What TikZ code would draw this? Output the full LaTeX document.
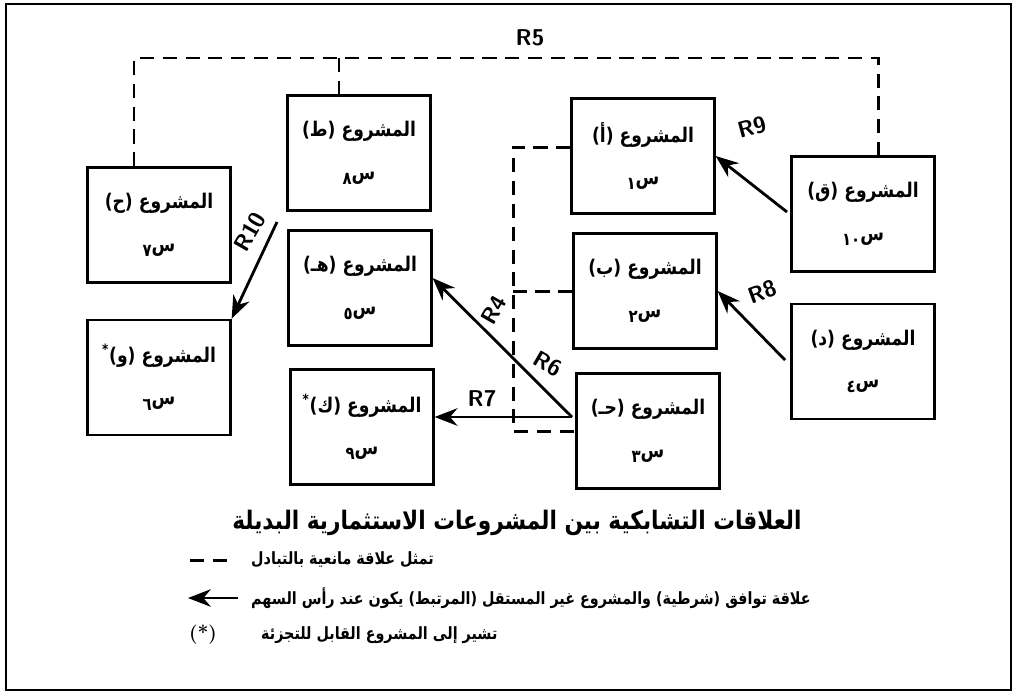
\documentclass[tikz,border=0pt]{standalone}
\usepackage{fontspec}
\newfontfamily\arabicfont[Script=Arabic,FakeStretch=0.85]{DejaVu Sans}
\TeXXeTstate=1
\usetikzlibrary{arrows.meta,positioning}
\newcommand{\artxt}[1]{{\arabicfont\bfseries\beginR #1\endR}}
\newcommand{\proj}[3][]{\artxt{المشروع (#2)#1}\\[10pt]\artxt{س\raisebox{-3pt}{\fontsize{10}{10}\selectfont #3}}}

\begin{document}
\begin{tikzpicture}[x=0.02cm, y=-0.02cm,
  box/.style={draw, line width=1.3pt, minimum width=2.86cm, minimum height=2.3cm, align=center, font=\fontsize{11.5}{14}\selectfont},
  mutex/.style={line width=1.7pt, dash pattern=on 8pt off 5pt},
  cond/.style={->, >={Stealth[length=13pt,width=10pt]}, line width=1.6pt},
  rlbl/.style={font=\sffamily\bfseries\fontsize{13}{15}\selectfont, inner sep=1pt},
  legend/.style={font=\fontsize{9.6}{12}\selectfont}]
\useasboundingbox (0,0) rectangle (1017,697);
\draw[line width=1.5pt] (6,4) rectangle (1011,690);

\node[box] (H) at (159,225) {\proj{ح}{٧}};
\node[box, below=0.7cm of H] (W) {\proj[\textsuperscript{*}]{و}{٦}};
\node[box] (T) at (359,153) {\proj{ط}{٨}};
\node[box] (E) at (360,288) {\proj{هـ}{٥}};
\node[box] (K) at (362,427) {\proj[\textsuperscript{*}]{ك}{٩}};
\node[box] (A) at (643,156) {\proj{أ}{١}};
\node[box] (B) at (645,291) {\proj{ب}{٢}};
\node[box] (J) at (648,431) {\proj{حـ}{٣}};
\node[box] (Q) at (863,214) {\proj{ق}{١٠}};
\node[box, below=0.6cm of Q] (D) {\proj{د}{٤}};

\coordinate (r5l) at (134,58);
\coordinate (r5t) at (339,58);
\coordinate (r5r) at (878,58);
\draw[mutex] (H.north -| r5l) -- (r5l) -- (r5r) -- (Q.north -| r5r);
\draw[mutex] (r5t) -- (T.north -| r5t);
\node[rlbl] (R5) at (530,38) {R5};

\coordinate (r4c) at (513,0);
\draw[mutex] ([yshift=0.18cm]A.west) -- ([yshift=0.18cm]A.west -| r4c) -- (J.west -| r4c) -- (J.west);
\draw[mutex] (B.west) -- (B.west -| r4c);
\node[rlbl, rotate=60] (R4) at (494,310) {R4};

\coordinate (r9s) at (787,212);
\draw[cond] (r9s) -- (A.east);
\node[rlbl, rotate=15] (R9) at (752,127) {R9};
\coordinate (r8s) at (785,360);
\draw[cond] (r8s) -- (B.east);
\node[rlbl, rotate=20] (R8) at (762,292) {R8};
\coordinate (r10s) at (277,222);
\draw[cond] (r10s) -- (W.north east);
\node[rlbl, rotate=60] (R10) at (250,232) {R10};
\coordinate (r67) at (572,417);
\draw[cond] (r67) -- ([yshift=0.2cm]E.east);
\node[rlbl, rotate=-30] (R6) at (548,364) {R6};
\draw[cond] (r67) -- (r67 -| K.east);
\node[rlbl] (R7) at (482,399) {R7};

\node[font=\fontsize{14.5}{16}\selectfont] (title) at (517,523) {\artxt{العلاقات التشابكية بين المشروعات الاستثمارية البديلة}};
\coordinate (l1a) at (190,560);
\coordinate (l1b) at (235,560);
\draw[mutex] (l1a) -- (l1b);
\node[legend, anchor=west] (t1) at (245,560) {\artxt{تمثل علاقة مانعية بالتبادل}};
\coordinate (l2a) at (238,598);
\coordinate (l2b) at (188,598);
\draw[cond] (l2a) -- (l2b);
\node[legend, anchor=west] (t2) at (245,598) {\artxt{علاقة توافق (شرطية) والمشروع غير المستقل (المرتبط) يكون عند رأس السهم}};
\node[legend, font=\bfseries\fontsize{11}{13}\selectfont] (star) at (203,635) {(*)};
\node[legend, anchor=west] (t3) at (255,635) {\artxt{تشير إلى المشروع القابل للتجزئة}};
\end{tikzpicture}
\end{document}
